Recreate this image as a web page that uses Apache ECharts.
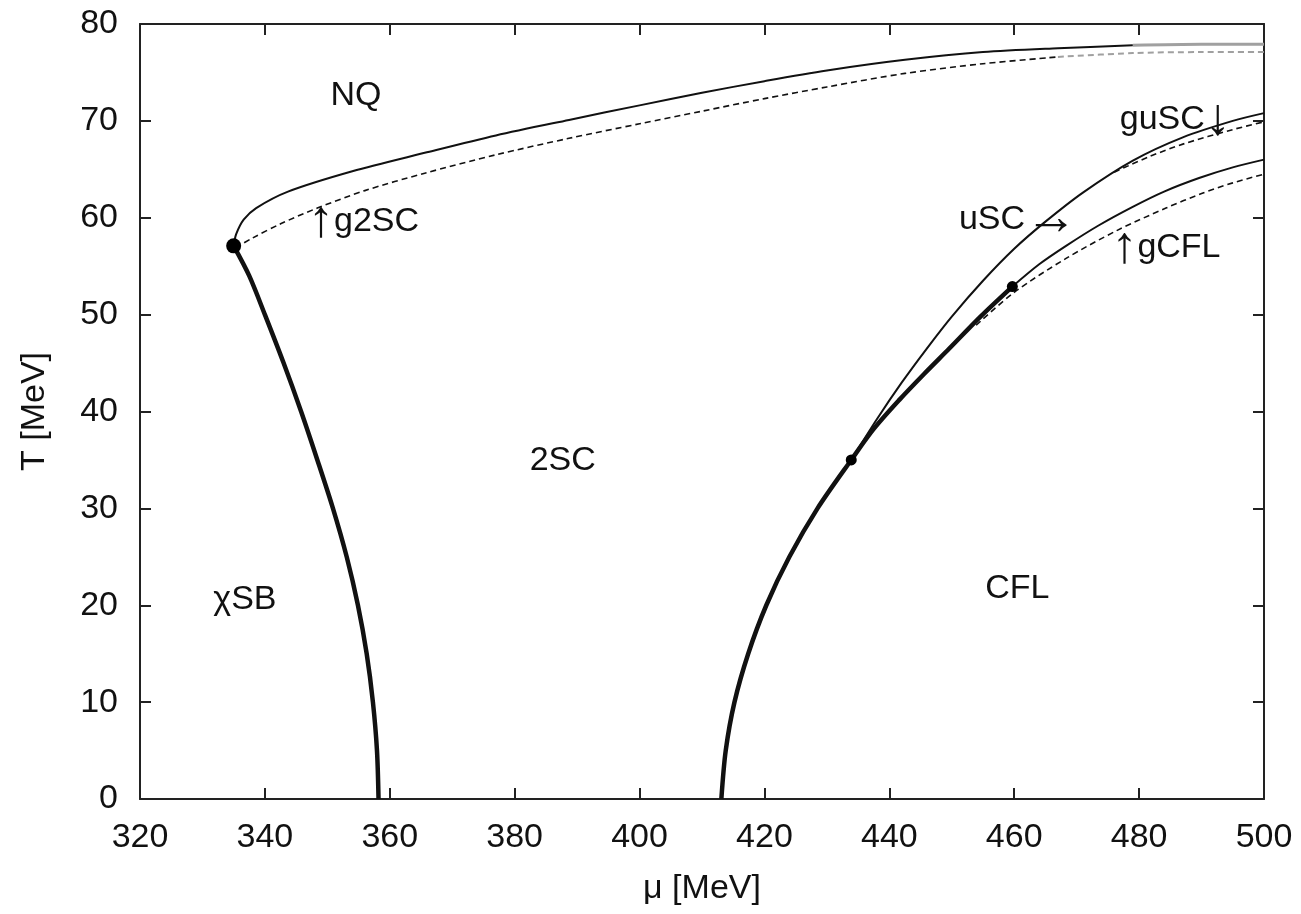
<!DOCTYPE html>
<html>
<head>
<meta charset="utf-8">
<script src="https://cdn.jsdelivr.net/npm/echarts@6/dist/echarts.min.js"></script>
<style>
  html, body { margin: 0; padding: 0; background: #fff; }
  #chart { width: 1301px; height: 914px; }
</style>
</head>
<body>
<div id="chart"></div>
<script>
// Phase diagram of neutral quark matter in the (mu, T) plane, values in MeV.

const muTicks = [320, 340, 360, 380, 400, 420, 440, 460, 480, 500];
const tTicks = [0, 10, 20, 30, 40, 50, 60, 70, 80];

// First-order chiral transition (chiSB | 2SC), ending at the critical point
const chiralLine = [
  [358.2, 0], [357.95, 5], [357.3, 10], [356.3, 15], [354.9, 20], [353.1, 25],
  [350.9, 30], [348.4, 35], [345.8, 40], [343.0, 45], [340.0, 50], [337.5, 54],
  [335.0, 57.1]
];

// Upper boundary to normal quark matter (second order)
const nqSolid = [
  [335.0, 57.1], [335.4, 58.3], [336.6, 59.8], [338.6, 61.0], [343.7, 62.7],
  [354, 64.8], [365.6, 66.7], [377, 68.5], [388.7, 70.1], [400, 71.6],
  [410, 72.9], [420, 74.1], [430, 75.2], [442.5, 76.3], [455, 77.1],
  [467, 77.5], [479, 77.8]
];
const nqSolidTail = [[479, 77.8], [490, 77.9], [500, 77.9]];

// Onset of gapless 2SC
const g2scDashed = [
  [335.3, 56.9], [338, 57.9], [342.6, 59.4], [348.4, 61.0], [356, 62.8],
  [365.6, 64.6], [377, 66.5], [388.7, 68.2], [400, 69.7], [410, 71.0],
  [420, 72.3], [430, 73.5], [442.5, 74.9], [455, 75.9], [467, 76.6]
];
const g2scDashedTail = [[467, 76.6], [479, 77.0], [490, 77.1], [500, 77.1]];

// First-order transition into CFL, up to the upper end point
const cflFirstOrder = [
  [413.1, 0], [413.8, 5], [415.2, 10], [417.4, 15], [420.3, 20], [424.0, 25],
  [428.5, 30], [433.9, 35.0], [437.5, 38.2], [441.6, 41.2], [445.6, 43.9],
  [449.6, 46.5], [454.6, 49.8], [459.7, 52.9]
];

// Second-order CFL boundary beyond the end point
const cflSecondOrder = [
  [459.7, 52.9], [464, 55.2], [468.3, 57.1], [473.5, 59.2], [478.9, 61.1],
  [484, 62.7], [489.6, 64.1], [495, 65.2], [500, 66.0]
];

// Onset of gapless CFL
const gcflDashed = [
  [453.9, 48.9], [460, 52.3], [468.3, 55.8], [476.5, 58.7], [484.3, 61.0],
  [490, 62.5], [495, 63.6], [500, 64.5]
];

// uSC boundary starting from the lower end point
const uscLine = [
  [433.9, 35.0], [438, 39.2], [442, 43.0], [446, 46.5], [450, 49.8],
  [455, 53.5], [460, 56.8], [465, 59.6], [471, 62.6], [479, 65.9],
  [487, 68.3], [495, 70.0], [500, 70.8]
];

// Onset of gapless uSC
const guscDashed = [
  [476, 64.7], [481.6, 66.3], [487, 67.6], [495, 69.1], [500, 69.9]
];

// Critical / end points
const bigPoints = [[335.0, 57.1]];
const smallPoints = [[433.9, 35.0], [459.7, 52.9]];

// Phase labels ({a|...} marks an arrow glyph)
const phaseLabels = [
  { name: 'NQ', value: [354.6, 72.6] },
  { name: '{a|\u2191}g2SC', value: [355.8, 59.6] },
  { name: '2SC', value: [387.7, 34.9] },
  { name: '\u03c7SB', value: [336.8, 20.6] },
  { name: 'CFL', value: [460.5, 21.7] },
  { name: 'uSC{a|\u2192}', value: [460.6, 59.8] },
  { name: 'guSC{a|\u2193}', value: [485.8, 70.1] },
  { name: '{a|\u2191}gCFL', value: [484.3, 56.9] }
];

const FONT = '"Liberation Sans", Arial, Helvetica, sans-serif';
const INK = '#111';

function lineSeries(data, width, dashed, color) {
  return {
    type: 'line', data: data, smooth: 0.3, showSymbol: false, silent: true,
    lineStyle: { color: color || INK, width: width, type: dashed ? [6, 4] : 'solid' },
    z: 3
  };
}

const axisCommon = {
  type: 'value',
  axisLine: { show: true, onZero: false, lineStyle: { color: '#222', width: 2 } },
  axisTick: { show: true, inside: true, length: 11, lineStyle: { color: '#222', width: 2 } },
  splitLine: { show: false }
};

const chart = echarts.init(document.getElementById('chart'), null, { renderer: 'canvas' });
chart.setOption({
  animation: false,
  backgroundColor: '#fff',
  grid: { left: 140, right: 37, top: 24, bottom: 115 },
  xAxis: [
    Object.assign({}, axisCommon, {
      min: muTicks[0], max: muTicks[muTicks.length - 1], interval: 20, position: 'bottom',
      name: '\u03bc [MeV]', nameLocation: 'middle', nameGap: 73,
      nameTextStyle: { fontFamily: FONT, fontSize: 34, color: INK },
      axisLabel: { margin: 22, fontFamily: FONT, fontSize: 34, color: INK }
    }),
    Object.assign({}, axisCommon, {
      min: muTicks[0], max: muTicks[muTicks.length - 1], interval: 20, position: 'top',
      axisLabel: { show: false }
    })
  ],
  yAxis: [
    Object.assign({}, axisCommon, {
      min: tTicks[0], max: tTicks[tTicks.length - 1], interval: 10, position: 'left',
      name: 'T [MeV]', nameLocation: 'middle', nameGap: 88, nameRotate: 90,
      nameTextStyle: { fontFamily: FONT, fontSize: 34, color: INK },
      axisLabel: { margin: 22, fontFamily: FONT, fontSize: 34, color: INK }
    }),
    Object.assign({}, axisCommon, {
      min: tTicks[0], max: tTicks[tTicks.length - 1], interval: 10, position: 'right',
      axisLabel: { show: false }
    })
  ],
  series: [
    lineSeries(chiralLine, 4.5, false),
    lineSeries(nqSolid, 2, false),
    lineSeries(nqSolidTail, 3, false, '#a0a0a0'),
    lineSeries(g2scDashed, 1.6, true),
    lineSeries(g2scDashedTail, 2, true, '#a0a0a0'),
    lineSeries(cflFirstOrder, 4.5, false),
    lineSeries(cflSecondOrder, 2, false),
    lineSeries(gcflDashed, 1.6, true),
    lineSeries(uscLine, 2, false),
    lineSeries(guscDashed, 1.6, true),
    {
      type: 'scatter', data: bigPoints, symbol: 'circle', symbolSize: 15, silent: true,
      itemStyle: { color: '#000', opacity: 1 }, z: 5
    },
    {
      type: 'scatter', data: smallPoints, symbol: 'circle', symbolSize: 11, silent: true,
      itemStyle: { color: '#000', opacity: 1 }, z: 5
    },
    {
      type: 'scatter', data: phaseLabels, symbolSize: 0, silent: true, z: 6,
      itemStyle: { opacity: 1 },
      label: {
        show: true, position: 'inside', formatter: '{b}', opacity: 1,
        fontFamily: FONT, fontSize: 34, color: INK,
        rich: {
          a: { fontFamily: FONT, fontSize: 52, color: INK }
        }
      }
    }
  ]
});
</script>
</body>
</html>
